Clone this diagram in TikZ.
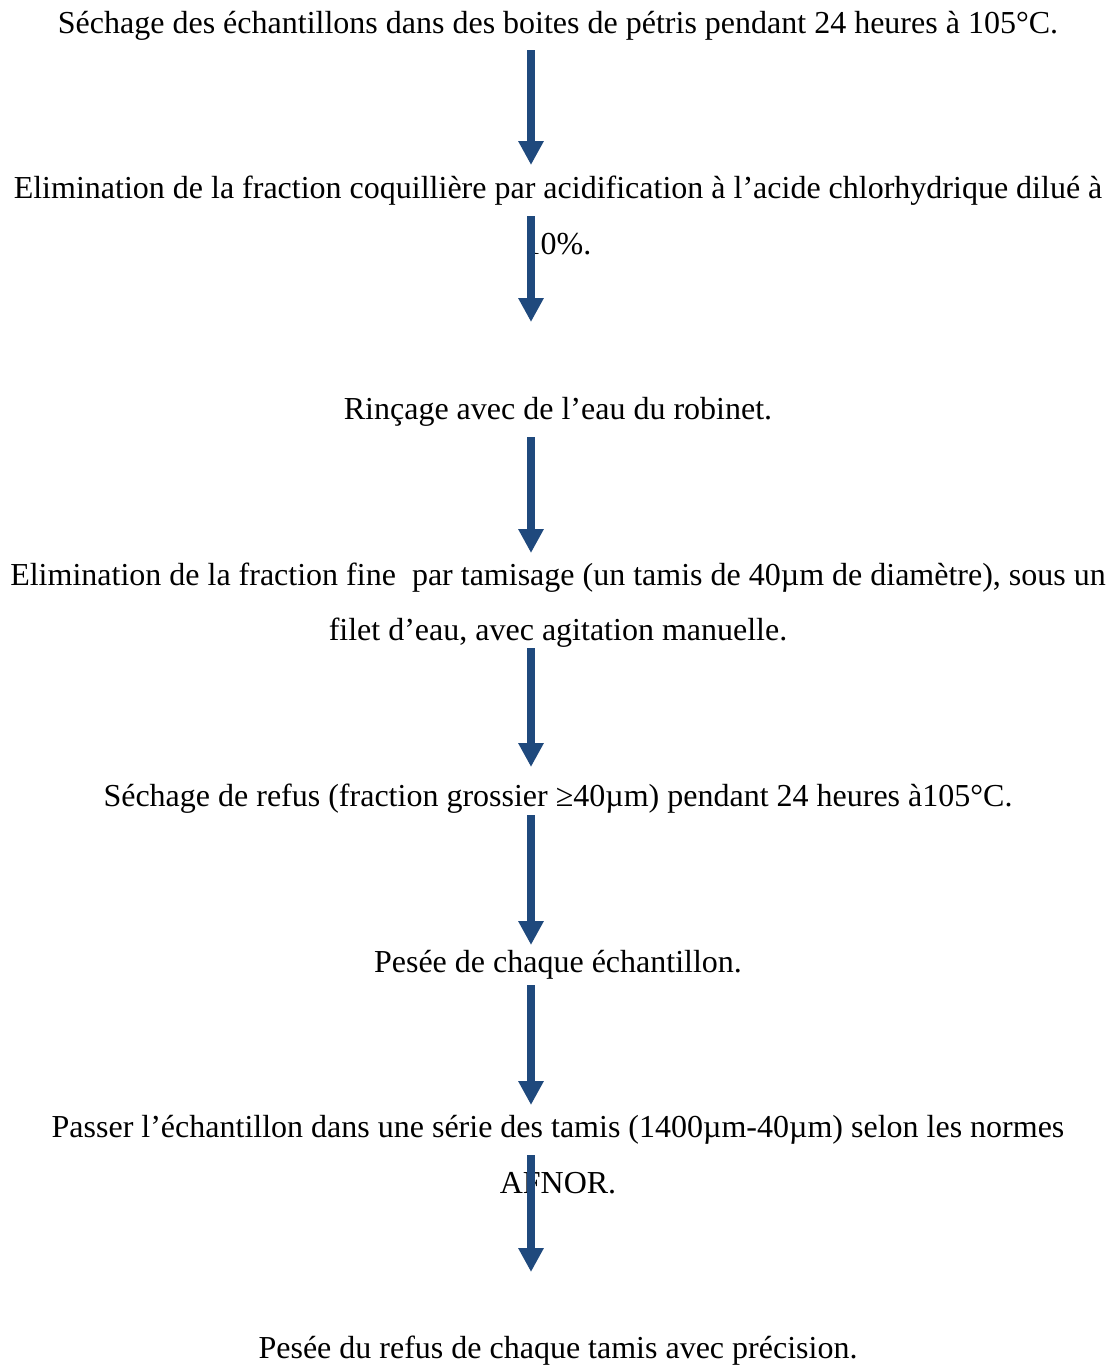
\documentclass[tikz,border=0pt]{standalone}
\usepackage{fontspec}
\setmainfont{Liberation Serif}
\usetikzlibrary{arrows.meta}
\definecolor{arrblue}{HTML}{1F497D}
\tikzset{
  txt/.style={anchor=base, inner sep=0pt, font=\fontsize{32}{38}\selectfont},
  arr/.style={draw=arrblue, line width=8pt, -{Triangle[width=24pt,length=24pt]}}
}
\begin{document}
\begin{tikzpicture}[x=1pt,y=-1pt]
\useasboundingbox[fill=white] (0,0) rectangle (1116,1365);
\node[txt] (t1) at (558,33) {Séchage des échantillons dans des boites de pétris pendant 24 heures à 105°C.};
\node[txt] (t2a) at (558,198) {Elimination de la fraction coquillière par acidification à l’acide chlorhydrique dilué à};
\node[txt] (t2b) at (558,254) {10\%.};
\node[txt] (t3) at (558,419) {Rinçage avec de l’eau du robinet.};
\node[txt] (t4a) at (558,585) {Elimination de la fraction fine~ par tamisage (un tamis de 40µm de diamètre), sous un};
\node[txt] (t4b) at (558,640) {filet d’eau, avec agitation manuelle.};
\node[txt] (t5) at (558,806) {Séchage de refus (fraction grossier ≥40µm) pendant 24 heures à105°C.};
\node[txt] (t6) at (558,972) {Pesée de chaque échantillon.};
\node[txt] (t7a) at (558,1137) {Passer l’échantillon dans une série des tamis (1400µm-40µm) selon les normes};
\node[txt] (t7b) at (558,1193) {AFNOR.};
\node[txt] (t8) at (558,1358) {Pesée du refus de chaque tamis avec précision.};
\coordinate (a1s) at (531,50);   \coordinate (a1e) at (531,165);
\coordinate (a2s) at (531,216);  \coordinate (a2e) at (531,322);
\coordinate (a3s) at (531,437);  \coordinate (a3e) at (531,553);
\coordinate (a4s) at (531,648);  \coordinate (a4e) at (531,767);
\coordinate (a5s) at (531,815);  \coordinate (a5e) at (531,945);
\coordinate (a6s) at (531,985);  \coordinate (a6e) at (531,1105);
\coordinate (a7s) at (531,1155); \coordinate (a7e) at (531,1272);
\draw[arr] (a1s) -- (a1e);
\draw[arr] (a2s) -- (a2e);
\draw[arr] (a3s) -- (a3e);
\draw[arr] (a4s) -- (a4e);
\draw[arr] (a5s) -- (a5e);
\draw[arr] (a6s) -- (a6e);
\draw[arr] (a7s) -- (a7e);
\end{tikzpicture}
\end{document}
